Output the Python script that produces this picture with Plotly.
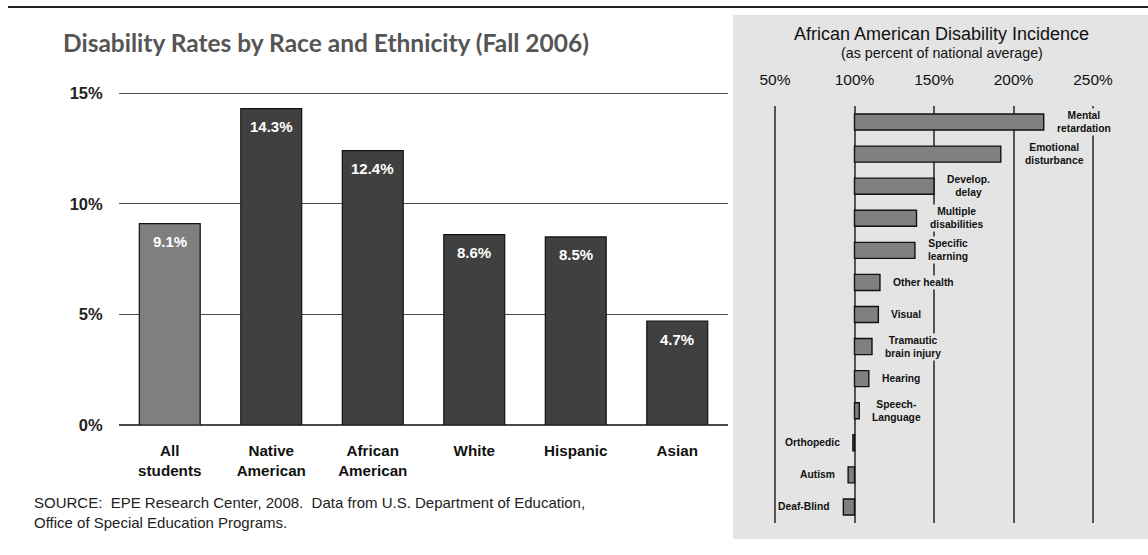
import plotly.graph_objects as go

W, H = 1148, 555

# Left chart data
groups = ["All<br>students", "Native<br>American", "African<br>American", "White", "Hispanic", "Asian"]
rates = [9.1, 14.3, 12.4, 8.6, 8.5, 4.7]
rate_labels = ["9.1%", "14.3%", "12.4%", "8.6%", "8.5%", "4.7%"]
y_ticks = [0, 5, 10, 15]
y_tick_text = ["0%", "5%", "10%", "15%"]

# Right chart data
disabilities = ["Mental<br>retardation", "Emotional<br>disturbance", "Develop.<br>delay",
                "Multiple<br>disabilities", "Specific<br>learning", "Other health", "Visual",
                "Tramautic<br>brain injury", "Hearing", "Speech-<br>Language", "Orthopedic",
                "Autism", "Deaf-Blind"]
incidence = [219, 192, 150, 139, 138, 116, 115, 111, 109, 103, 99, 96, 93]
x_ticks = [50, 100, 150, 200, 250]
x_tick_text = ["50%", "100%", "150%", "200%", "250%"]

PANEL = "#e4e4e4"

def px_x(p):
    return p / W

def px_y(p):
    return 1 - p / H

fig = go.Figure()

left_colors = ["#7f7f7f"] + ["#404040"] * (len(groups) - 1)
fig.add_trace(go.Bar(
    x=groups, y=rates,
    marker=dict(color=left_colors, line=dict(color="#111111", width=1.2)),
    width=0.6, xaxis="x", yaxis="y", hoverinfo="skip",
))

fig.add_trace(go.Bar(
    x=[v - 100 for v in incidence], base=100, y=disabilities, orientation="h",
    marker=dict(color="#808080", line=dict(color="#111111", width=1.4)),
    width=0.5, xaxis="x2", yaxis="y2", hoverinfo="skip",
))

shapes = [
    dict(type="rect", xref="paper", yref="paper", x0=px_x(733), x1=1,
         y0=px_y(539), y1=px_y(15), fillcolor=PANEL, line=dict(width=0), layer="below"),
    dict(type="line", xref="paper", yref="paper", x0=px_x(8), x1=1, y0=px_y(7), y1=px_y(7),
         line=dict(color="#222222", width=2)),
]

annotations = [
    dict(text="<b>Disability Rates by Race and Ethnicity (Fall 2006)</b>", x=px_x(61), y=px_y(43),
         xref="paper", yref="paper", xanchor="left", yanchor="middle", showarrow=False,
         font=dict(family="Lato", size=24.5, color="#555555")),
    dict(text="SOURCE:  EPE Research Center, 2008.  Data from U.S. Department of Education,<br>Office of Special Education Programs.",
         x=px_x(32), y=px_y(512), xref="paper", yref="paper", xanchor="left", yanchor="middle",
         align="left", showarrow=False, font=dict(family="Liberation Sans", size=15, color="#222222")),
    dict(text="African American Disability Incidence", x=px_x(941), y=px_y(34),
         xref="paper", yref="paper", xanchor="center", yanchor="middle", showarrow=False,
         font=dict(family="Liberation Sans", size=18, color="#111111")),
    dict(text="(as percent of national average)", x=px_x(942), y=px_y(53),
         xref="paper", yref="paper", xanchor="center", yanchor="middle", showarrow=False,
         font=dict(family="Liberation Sans", size=14.3, color="#111111")),
]

for g, v, t in zip(groups, rates, rate_labels):
    annotations.append(dict(
        text="<b>" + t + "</b>", x=g, y=v, xref="x", yref="y", yshift=-18,
        xanchor="center", yanchor="middle", showarrow=False,
        font=dict(family="Liberation Sans", size=15, color="white"),
    ))

label_gap = {"Emotional<br>disturbance": 22}
for name, v in zip(disabilities, incidence):
    gap = label_gap.get(name, 11)
    right = v >= 100
    annotations.append(dict(
        text="<b>" + name + "</b>", x=v, y=name, xref="x2", yref="y2",
        xanchor="left" if right else "right", xshift=gap if right else -gap,
        yanchor="middle", align="center", showarrow=False, bgcolor=PANEL, borderpad=1,
        font=dict(family="Liberation Sans", size=10.3, color="#111111"),
    ))

fig.update_layout(
    width=W, height=H, margin=dict(l=0, r=0, t=0, b=0, autoexpand=False),
    paper_bgcolor="white", plot_bgcolor="rgba(0,0,0,0)", showlegend=False,
    shapes=shapes, annotations=annotations,
    xaxis=dict(domain=[px_x(119), px_x(728)], showgrid=False, showline=False, zeroline=False,
               tickvals=groups, ticktext=["<b>" + g + "</b>" for g in groups],
               ticks="outside", ticklen=12, tickcolor="rgba(0,0,0,0)", automargin=False,
               tickfont=dict(family="Liberation Sans", size=15.2, color="#111111"), fixedrange=True),
    yaxis=dict(domain=[px_y(425), px_y(92)], range=[0, 15.05], tickvals=y_ticks,
               ticktext=["<b>" + t + "</b>" for t in y_tick_text],
               showgrid=True, gridcolor="#4a4a4a", gridwidth=1.3, zeroline=True, zerolinecolor="#4a4a4a",
               zerolinewidth=1.6, showline=False, ticks="outside", ticklen=12,
               tickcolor="rgba(0,0,0,0)", automargin=False,
               tickfont=dict(family="Liberation Sans", size=16.5, color="#222222"), fixedrange=True),
    xaxis2=dict(domain=[px_x(773.4), px_x(1094.6)], range=[49, 251], anchor="y2", side="top",
                tickvals=x_ticks, ticktext=x_tick_text, showgrid=True, gridcolor="#555555",
                gridwidth=2, zeroline=False, showline=False, ticks="outside", ticklen=14,
                tickcolor="rgba(0,0,0,0)", automargin=False,
                tickfont=dict(family="Liberation Sans", size=15.5, color="#111111"), fixedrange=True),
    yaxis2=dict(domain=[px_y(523), px_y(106)], anchor="x2",
                showticklabels=False, showgrid=False, zeroline=False, showline=False,
                automargin=False, range=[len(disabilities) - 0.5, -0.5], fixedrange=True),
)

fig.write_html("out.html", config={"displayModeBar": False},
               post_script="document.body.style.margin='0';document.body.style.overflow='hidden';")
